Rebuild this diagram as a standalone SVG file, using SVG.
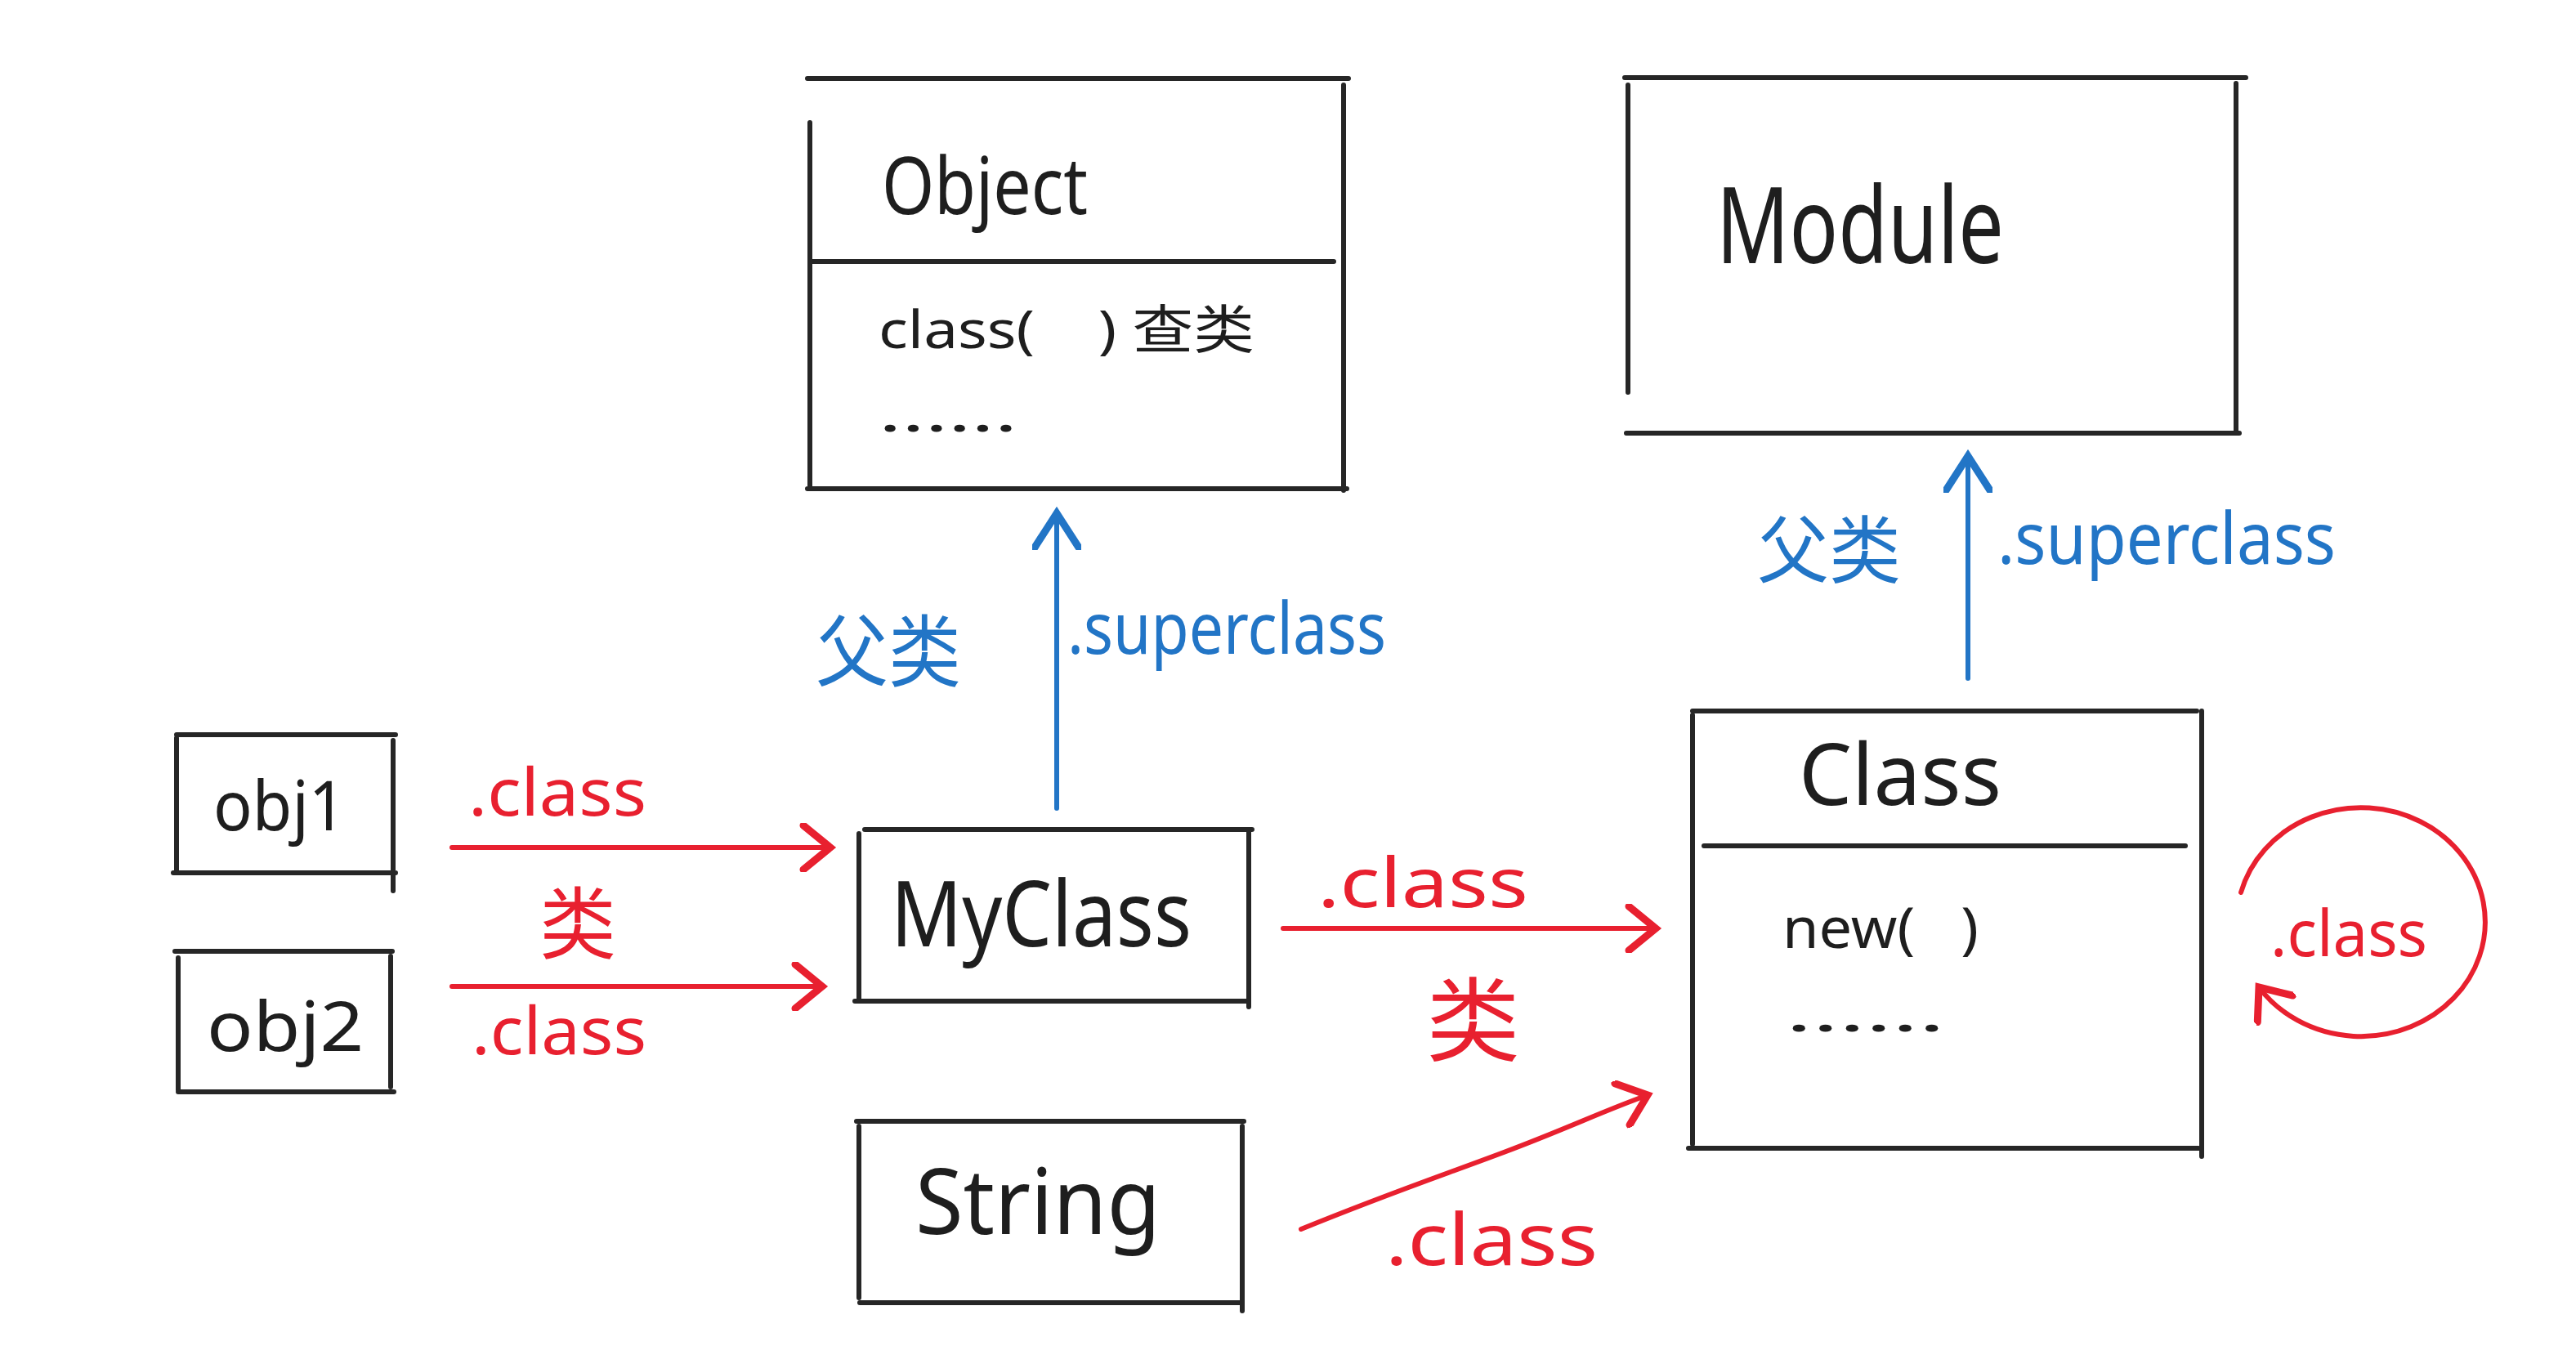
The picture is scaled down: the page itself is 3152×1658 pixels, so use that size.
<svg xmlns="http://www.w3.org/2000/svg" width="3152" height="1658" viewBox="0 0 3152 1658">
<defs>
<style>
.bx{stroke:#262626;stroke-width:6;stroke-linecap:round;fill:none}
.bk{fill:#1e1e1e;font-family:"Noto Sans","Noto Sans CJK SC",sans-serif}
.rd{fill:#e8202f;font-family:"Noto Sans","Noto Sans CJK SC",sans-serif}
.bl{fill:#2275c6;font-family:"Noto Sans","Noto Sans CJK SC",sans-serif}
.ra{stroke:#e8202f;stroke-width:6;fill:none;stroke-linecap:round}
.ba{stroke:#2275c6;stroke-width:6;fill:none;stroke-linecap:round}
</style>
<marker id="mr" markerUnits="userSpaceOnUse" markerWidth="60" markerHeight="60" refX="30" refY="20" orient="auto" viewBox="0 0 40 40">
<path d="M8,2 L30,20 L8,38" fill="none" stroke="#e8202f" stroke-width="6" stroke-linecap="round"/>
</marker>
<marker id="mb" markerUnits="userSpaceOnUse" markerWidth="60" markerHeight="60" refX="30" refY="20" orient="auto" viewBox="0 0 40 40">
<path d="M2,2 L30,20 L2,38" fill="none" stroke="#2275c6" stroke-width="6" stroke-linecap="round"/>
</marker>
</defs>
<rect width="3152" height="1658" fill="#ffffff"/>

<g id="node-object">
<path class="bx" d="M988,96 L1650,96 M1644,104 L1644,600 M991,150 L991,598 M988,598 L1648,598 M993,320 L1632,320"/>
<text class="bk" x="1079" y="262" font-size="96" textLength="252" lengthAdjust="spacingAndGlyphs">Object</text>
<text class="bk" x="1075" y="426" font-size="64" textLength="460" lengthAdjust="spacingAndGlyphs">class(&#160;&#160;&#160;&#160;) 查类</text>
<text class="bk" x="1075" y="528" font-size="64" textLength="170" lengthAdjust="spacingAndGlyphs">......</text>
</g>

<g id="node-module">
<path class="bx" d="M1988,95 L2748,95 M2736,102 L2736,530 M1992,104 L1992,480 M1990,530 L2740,530"/>
<text class="bk" x="2100" y="322" font-size="130" textLength="352" lengthAdjust="spacingAndGlyphs">Module</text>
</g>

<g id="node-class">
<path class="bx" d="M2071,870 L2688,870 M2694,870 L2694,1415 M2071,875 L2071,1400 M2066,1405 L2690,1405 M2085,1035 L2674,1035"/>
<text class="bk" x="2201" y="985" font-size="104" textLength="248" lengthAdjust="spacingAndGlyphs">Class</text>
<text class="bk" x="2181" y="1160" font-size="70" textLength="240" lengthAdjust="spacingAndGlyphs">new(&#160;&#160;&#160;)</text>
<text class="bk" x="2185" y="1262" font-size="64" textLength="195" lengthAdjust="spacingAndGlyphs">......</text>
</g>

<g id="node-obj1">
<path class="bx" d="M216,899 L484,899 M481,906 L481,1090 M216,903 L216,1068 M212,1068 L484,1068"/>
<text class="bk" x="261" y="1016" font-size="84" textLength="162" lengthAdjust="spacingAndGlyphs">obj1</text>
</g>

<g id="node-obj2">
<path class="bx" d="M214,1164 L480,1164 M478,1170 L478,1330 M218,1172 L218,1334 M218,1336 L482,1336"/>
<text class="bk" x="253" y="1286" font-size="84" textLength="192" lengthAdjust="spacingAndGlyphs">obj2</text>
</g>

<g id="node-myclass">
<path class="bx" d="M1058,1015 L1532,1015 M1528,1018 L1528,1232 M1051,1020 L1051,1224 M1046,1225 L1528,1225"/>
<text class="bk" x="1090" y="1158" font-size="112" textLength="368" lengthAdjust="spacingAndGlyphs">MyClass</text>
</g>

<g id="node-string">
<path class="bx" d="M1048,1372 L1522,1372 M1520,1378 L1520,1604 M1051,1378 L1051,1588 M1052,1594 L1518,1594"/>
<text class="bk" x="1120" y="1510" font-size="112" textLength="300" lengthAdjust="spacingAndGlyphs">String</text>
</g>

<g id="connectors">
<path class="ba" d="M1293,989 L1293,628" marker-end="url(#mb)"/>
<path class="ba" d="M2408,830 L2408,558" marker-end="url(#mb)"/>
<path class="ra" d="M553,1037 L1016,1037" marker-end="url(#mr)"/>
<path class="ra" d="M553,1207 L1006,1207" marker-end="url(#mr)"/>
<path class="ra" d="M1570,1136 L2026,1136" marker-end="url(#mr)"/>
<path class="ra" stroke-width="4" d="M1592,1504 C1700,1460 1760,1440 1840,1410 C1920,1380 1960,1360 2016,1340" marker-end="url(#mr)"/>
<path class="ra" d="M2742,1092 A152 140 0 1 1 2764,1208" marker-end="url(#mr)"/>

<text class="bl" x="998" y="832" font-size="96" textLength="178" lengthAdjust="spacingAndGlyphs">父类</text>
<text class="bl" x="1306" y="800" font-size="88" textLength="390" lengthAdjust="spacingAndGlyphs">.superclass</text>
<text class="bl" x="2150" y="706" font-size="90" textLength="176" lengthAdjust="spacingAndGlyphs">父类</text>
<text class="bl" x="2444" y="690" font-size="88" textLength="414" lengthAdjust="spacingAndGlyphs">.superclass</text>

<text class="rd" x="573" y="998" font-size="80" textLength="218" lengthAdjust="spacingAndGlyphs">.class</text>
<text class="rd" x="660" y="1165" font-size="96" textLength="94" lengthAdjust="spacingAndGlyphs">类</text>
<text class="rd" x="577" y="1290" font-size="80" textLength="214" lengthAdjust="spacingAndGlyphs">.class</text>
<text class="rd" x="1612" y="1110" font-size="84" textLength="258" lengthAdjust="spacingAndGlyphs">.class</text>
<text class="rd" x="1745" y="1290" font-size="112" textLength="115" lengthAdjust="spacingAndGlyphs">类</text>
<text class="rd" x="1695" y="1548" font-size="88" textLength="260" lengthAdjust="spacingAndGlyphs">.class</text>
<text class="rd" x="2778" y="1170" font-size="78" textLength="192" lengthAdjust="spacingAndGlyphs">.class</text>
</g>
</svg>
